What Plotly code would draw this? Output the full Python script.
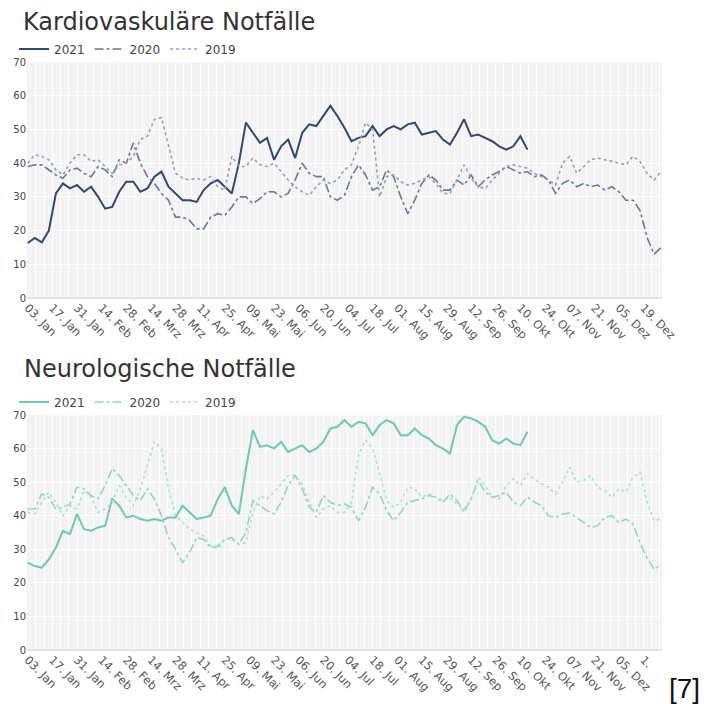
import plotly.graph_objects as go
import pandas as pd

kardio_2021 = [16.3, 17.8, 16.5, 20, 31, 34, 32.5, 33.5, 31.5, 33,
               30, 26.5, 27, 31.5, 34.5, 34.5, 31.5, 32.5, 36, 37.5,
               33, 31, 29, 29, 28.5, 32, 34, 35, 33, 31,
               40, 52, 49, 46, 47.5, 41, 45, 47, 41.5, 49,
               51.5, 51, 54, 57, 54, 50.5, 46.5, 47.5, 48, 51,
               48, 50, 51, 50, 51.5, 52, 48.5, 49, 49.5, 47,
               45.5, 49, 53, 48, 48.5, 47.5, 46.5, 45, 44, 45,
               48, 44]
kardio_2020 = [39, 39.5, 39.5, 38, 36.5, 35.5, 38, 38.5, 37, 36,
               39, 38, 36, 41, 40, 46, 40, 36, 34, 31,
               29, 24, 24, 23, 20.5, 20.5, 24, 25, 24.5, 27,
               30, 30, 28, 29.5, 31.5, 31.5, 30, 31, 35, 40,
               37, 36, 36, 30, 29, 30.5, 36, 39.5, 36.5, 32,
               33, 38, 36, 30, 25, 29, 34, 36.5, 35, 32,
               32, 35, 33.5, 36.5, 33, 35, 36.5, 37.5, 39, 38,
               37, 37.5, 36, 36.5, 35, 31, 34, 35, 33, 34,
               33, 33.5, 32, 33, 31.5, 29, 29, 26, 18, 13,
               15]
kardio_2019 = [40, 42.5, 42, 41, 38, 36.5, 40, 42.5, 42.5, 40.5,
               41, 39, 37, 39.5, 40, 42, 47, 48, 53, 53.5,
               45, 37, 35.5, 35, 35.5, 35, 36, 33, 32, 42,
               39, 39, 41.5, 39.5, 39, 40, 37.5, 35, 33, 31.5,
               30.5, 33, 35, 34, 35, 38, 39.5, 45, 52, 50,
               30, 36, 36.5, 34.5, 33.5, 34, 35, 36, 34, 31,
               31, 35, 39.5, 35.5, 33, 32.5, 35, 37, 39, 39.5,
               39, 38.5, 37, 36, 35, 33.5, 40, 42, 37, 39,
               41, 41.5, 41, 40.5, 40, 39.5, 42, 40.5, 37, 35,
               37.5]

neuro_2021 = [26, 25, 24.5, 27, 30.5, 35.5, 34.5, 40.5, 36, 35.5,
              36.5, 37, 45, 43, 39.5, 40, 39, 38.5, 39, 38.5,
              39.5, 39.5, 43, 41, 39, 39.5, 40, 45, 48.5, 43,
              40.5, 54, 65.5, 60.5, 61, 60, 62, 59, 60, 61,
              59, 60, 62, 66, 66.5, 68.5, 66.5, 68, 67.5, 64,
              67, 68.5, 67.5, 64, 64, 66, 64, 63, 61, 60,
              58.5, 67, 69.5, 69, 68, 66.5, 62.5, 61.5, 63, 61.5,
              61, 65]
neuro_2020 = [42, 42, 46.5, 45.5, 42, 42.5, 43.5, 48.5, 48, 46,
              45, 49, 54, 52, 49, 46, 44.5, 48, 45, 40,
              33.5, 30, 26, 29, 33.5, 33, 30.5, 31, 33, 33.5,
              31.5, 35, 44.5, 43, 41.5, 40.5, 44, 49, 52, 48,
              42.5, 41, 46, 44, 43, 43.5, 42.5, 38.5, 42.5, 48.5,
              46.5, 41.5, 38.5, 41, 44, 44.5, 45, 46, 45.5, 44,
              46.5, 44.5, 41, 45, 50.5, 47, 45.5, 46, 47, 44,
              43, 45.5, 44, 43, 40, 39.5, 40.5, 40.8, 39.5, 38,
              36.5, 37, 39.5, 40, 38, 39, 37.5, 32, 27.5, 24,
              25.5]
neuro_2019 = [41, 40.5, 44, 47, 44, 40, 43, 42, 47.5, 45.5,
              41, 42, 44, 49, 45.5, 43, 48, 55, 62, 60,
              48, 40, 38, 36, 35, 34, 31, 30, 33, 33,
              31.5, 32, 41, 46, 45, 47, 49.5, 52, 52, 49.5,
              44, 39.5, 42, 43, 41, 41, 44, 58, 62.5, 60,
              52.5, 44.5, 42.5, 44, 48.5, 48, 45.5, 46.5, 45.5, 44.5,
              45.5, 43.5, 42, 45, 51.5, 49, 45.5, 45, 49, 51,
              49, 52.5, 51, 49.5, 48.5, 46.5, 50, 54.5, 50, 50.5,
              52, 48.5, 47.5, 45.5, 48, 47, 51.5, 53, 44, 38.5,
              39]

tick_dates = ["2021-01-03", "2021-01-17", "2021-01-31", "2021-02-14", "2021-02-28",
              "2021-03-14", "2021-03-28", "2021-04-11", "2021-04-25", "2021-05-09",
              "2021-05-23", "2021-06-06", "2021-06-20", "2021-07-04", "2021-07-18",
              "2021-08-01", "2021-08-15", "2021-08-29", "2021-09-12", "2021-09-26",
              "2021-10-10", "2021-10-24", "2021-11-07", "2021-11-21", "2021-12-05",
              "2021-12-19"]
tick_labels = ["03. Jan", "17. Jan", "31. Jan", "14. Feb", "28. Feb", "14. Mrz",
               "28. Mrz", "11. Apr", "25. Apr", "09. Mai", "23. Mai", "06. Jun",
               "20. Jun", "04. Jul", "18. Jul", "01. Aug", "15. Aug", "29. Aug",
               "12. Sep", "26. Sep", "10. Okt", "24. Okt", "07. Nov", "21. Nov",
               "05. Dez", "19. Dez"]
tick_labels_bottom = tick_labels[:-1] + ["1."]

titles = ["Kardiovaskuläre Notfälle", "Neurologische Notfälle"]
years = ["2021", "2020", "2019"]


def dates(n):
    return pd.date_range("2021-01-03", periods=n, freq="4D")


FONT = "DejaVu Sans, Verdana, sans-serif"

fig = go.Figure()

top_styles = [
    dict(color="#2d4a73", width=2, dash="solid"),
    dict(color="#667a99", width=1.6, dash="dashdot"),
    dict(color="#929fb7", width=1.6, dash="dot"),
]
bottom_styles = [
    dict(color="#6cc9b3", width=2, dash="solid"),
    dict(color="#8dd7c5", width=1.6, dash="dashdot"),
    dict(color="#a8e2d5", width=1.6, dash="dot"),
]

for name, vals, st in zip(years, [kardio_2021, kardio_2020, kardio_2019], top_styles):
    fig.add_trace(go.Scatter(x=dates(len(vals)), y=vals, mode="lines", name=name,
                             line=st, xaxis="x", yaxis="y", legend="legend"))

for name, vals, st in zip(years, [neuro_2021, neuro_2020, neuro_2019], bottom_styles):
    fig.add_trace(go.Scatter(x=dates(len(vals)), y=vals, mode="lines", name=name,
                             line=st, xaxis="x2", yaxis="y2", legend="legend2"))

# the page body has an 8px margin, so the figure is 700x696 and sits at (8, 8)
W, H = 700, 696
ML, MR, MT, MB = 19, 46, 54, 54
H_PLOT = H - MT - MB
W_PLOT = W - ML - MR


def py(pix):  # reference page pixel (y) -> paper coordinate
    return (650 - pix) / H_PLOT


def px(pix):  # reference page pixel (x) -> paper coordinate
    return (pix - 27) / W_PLOT


xcommon = dict(
    type="date",
    range=["2021-01-02 14:00", "2021-12-29 12:00"],
    tickangle=45,
    showgrid=True, gridcolor="white", gridwidth=1,
    minor=dict(dtick=int(14 / 3 * 86400000), tick0="2021-01-03", showgrid=True,
               gridcolor="white", gridwidth=1),
    showline=False, zeroline=False, ticks="",
    tickfont=dict(family=FONT, size=11.5, color="#555"),
    automargin=False,
)
ycommon = dict(
    range=[0, 70], dtick=10, showgrid=True, gridcolor="white", gridwidth=1,
    zeroline=True, zerolinecolor="#e4e4e4", zerolinewidth=2,
    showline=False, ticks="",
    tickfont=dict(family=FONT, size=10, color="#444"),
    automargin=False,
)
legcommon = dict(orientation="h", x=px(14), xanchor="left", yanchor="middle",
                 bgcolor="rgba(0,0,0,0)", font=dict(family=FONT, size=12, color="#444"),
                 itemwidth=30, tracegroupgap=0)

fig.update_layout(
    width=W, height=H, autosize=False,
    margin=dict(l=ML, r=MR, t=MT, b=MB, autoexpand=False),
    paper_bgcolor="white", plot_bgcolor="#f3f3f4",
    font=dict(family=FONT),
    xaxis=dict(xcommon, anchor="y", domain=[0, 1], tickvals=tick_dates, ticktext=tick_labels),
    yaxis=dict(ycommon, anchor="x", domain=[py(298), 1]),
    xaxis2=dict(xcommon, anchor="y2", domain=[0, 1], tickvals=tick_dates, ticktext=tick_labels_bottom),
    yaxis2=dict(ycommon, anchor="x2", domain=[0, py(415)]),
    legend=dict(legcommon, y=py(49)),
    legend2=dict(legcommon, y=py(402)),
    showlegend=True,
)

fig.add_annotation(text=titles[0], xref="paper", yref="paper", x=0, y=py(22),
                   xanchor="left", yanchor="middle", xshift=-6, showarrow=False,
                   font=dict(family=FONT, size=24, color="#333"))
fig.add_annotation(text=titles[1], xref="paper", yref="paper", x=0, y=py(369),
                   xanchor="left", yanchor="middle", xshift=-5, showarrow=False,
                   font=dict(family=FONT, size=24, color="#333"))
fig.add_annotation(text="[7]", xref="paper", yref="paper", x=px(684), y=py(688),
                   xanchor="center", yanchor="middle", showarrow=False,
                   font=dict(family="Liberation Sans Narrow, Liberation Sans, sans-serif",
                             size=28, color="#111"))

fig.write_html("out.html")
